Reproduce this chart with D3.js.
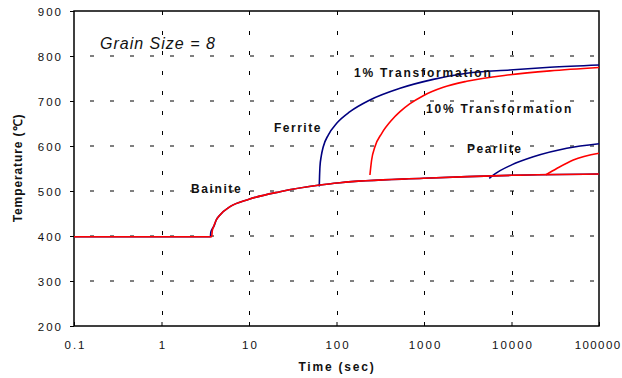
<!DOCTYPE html>
<html>
<head>
<meta charset="utf-8">
<script src="https://cdn.jsdelivr.net/npm/d3@7"></script>
<style>
  html, body { margin: 0; padding: 0; background: #fff; }
  svg { display: block; }
  text { font-family: "Liberation Sans", Arial, sans-serif; fill: #111; }
</style>
</head>
<body>
<svg id="chart" width="622" height="378"></svg>
<script>
// ---- data (time in sec, temperature in °C) ----
const xTicks = [0.1, 1, 10, 100, 1000, 10000, 100000];
const xTickLabels = ["0.1", "1", "10", "100", "1000", "10000", "100000"];
const yTicks = [200, 300, 400, 500, 600, 700, 800, 900];

const bainite1 = [[0.1,398.4],[3.62,398.4],[3.66,408],[3.78,415],[4.0,423],[4.2,434.4],[4.66,446.7],[6.07,465.1],[10,481.6],[22.6,498.4],[64.7,513.3],[109.6,518.4],[993,528.2],[10040,534.9],[100000,537.8]];
const bainite10 = [[0.1,398.4],[3.75,398.4],[3.80,411],[3.91,418.9],[4.2,434.4],[4.66,446.7],[6.07,465.1],[10,481.6],[22.6,498.4],[64.7,513.3],[109.6,518.4],[993,528.2],[10040,534.9],[100000,537.8]];
const ferrite1 = [[63.5,510],[64.0,532],[64.7,554],[67.0,577.8],[70.6,598.4],[80.5,624.4],[100.5,650.4],[142.6,676.2],[241,702.2],[532,728.2],[1276,748],[3076,761.6],[9610,768.9],[27500,774.9],[100000,780]];
const ferrite10 = [[241,535.6],[252,568.9],[275,598.4],[329,628.2],[428,657.8],[532,676.2],[692,694],[981,711.8],[1662,730.4],[3076,743.8],[9610,758.2],[27500,767],[100000,774.5]];
const pearlite1 = [[5570,528],[6470,538],[10040,558],[17740,576],[42760,595],[100000,605]];
const pearlite10 = [[24770,536],[32900,550],[50800,569],[100000,584]];

const labels = [
  {text: "Grain Size = 8", x: 100, y: 49, italic: true, bold: false, size: 16, ls: 1},
  {text: "1% Transformation", x: 354, y: 77, bold: true, size: 12, ls: 1.8},
  {text: "10% Transformation", x: 426, y: 113, bold: true, size: 12, ls: 1.8},
  {text: "Ferrite", x: 274, y: 132, bold: true, size: 12, ls: 1.5},
  {text: "Pearlite", x: 467, y: 153, bold: true, size: 12, ls: 1.5},
  {text: "Bainite", x: 191, y: 193, bold: true, size: 12, ls: 1.6}
];

// ---- layout ----
const svg = d3.select("#chart");
const m = {left: 74, top: 11, right: 599, bottom: 326};
const x = d3.scaleLog().domain([0.1, 100000]).range([m.left, m.right]);
const y = d3.scaleLinear().domain([200, 900]).range([m.bottom, m.top]);

// gridlines
const grid = svg.append("g");
grid.selectAll("line.h").data(yTicks.filter(v => v > 200 && v < 900)).join("line")
  .attr("x1", m.left).attr("x2", m.right)
  .attr("y1", d => y(d)).attr("y2", d => y(d))
  .attr("stroke", "#000").attr("stroke-width", 1).attr("stroke-dasharray", "4,16")
  .attr("stroke-dashoffset", -16);
grid.selectAll("line.v").data(xTicks.filter(v => v > 0.1 && v < 100000)).join("line")
  .attr("x1", d => Math.round(x(d)) + 0.5).attr("x2", d => Math.round(x(d)) + 0.5)
  .attr("y1", m.top).attr("y2", m.bottom)
  .attr("stroke", "#000").attr("stroke-width", 1).attr("stroke-dasharray", "4,16");

// axes
const yAxis = d3.axisLeft(y).tickValues(yTicks).tickSize(4).tickFormat(d3.format("d"));
const gy = svg.append("g").attr("transform", `translate(${m.left},0)`).call(yAxis);
gy.select(".domain").remove();
gy.selectAll(".tick line").attr("stroke", "#000");
gy.selectAll(".tick text").attr("x", -11).attr("dy", "0.36em")
  .style("font-size", "11.5px").style("letter-spacing", "2px")
  .style("font-family", "'Liberation Sans', Arial, sans-serif").attr("fill", "#111");

const xAxis = d3.axisBottom(x).tickValues(xTicks).tickSize(-4)
  .tickFormat((d, i) => xTickLabels[i]);
const gx = svg.append("g").attr("transform", `translate(0,${m.bottom})`).call(xAxis);
gx.select(".domain").remove();
gx.selectAll(".tick line").attr("stroke", "#000");
gx.selectAll(".tick text").attr("y", 23).attr("dy", 0).attr("dx", 1)
  .style("font-size", "11.5px").style("letter-spacing", "2px")
  .style("font-family", "'Liberation Sans', Arial, sans-serif").attr("fill", "#111");
// keep the last label inside the picture
gx.selectAll(".tick text").filter((d, i) => i === xTicks.length - 1)
  .attr("text-anchor", "end").attr("dx", 22).style("letter-spacing", "1.4px");

// frame
svg.append("rect").attr("x", m.left).attr("y", m.top)
  .attr("width", m.right - m.left).attr("height", m.bottom - m.top)
  .attr("fill", "none").attr("stroke", "#000").attr("stroke-width", 1.5);

// curves
const line = d3.line().x(d => x(d[0])).y(d => y(d[1])).curve(d3.curveMonotoneX);
const series = [
  {data: bainite1, color: "#000080"},
  {data: ferrite1, color: "#000080"},
  {data: pearlite1, color: "#000080"},
  {data: bainite10, color: "#ff0000"},
  {data: ferrite10, color: "#ff0000"},
  {data: pearlite10, color: "#ff0000"}
];
svg.append("g").selectAll("path").data(series).join("path")
  .attr("d", d => line(d.data))
  .attr("fill", "none").attr("stroke", d => d.color).attr("stroke-width", 1.6)
  .attr("stroke-linejoin", "round");

// annotations
svg.append("g").selectAll("text").data(labels).join("text")
  .attr("x", d => d.x).attr("y", d => d.y)
  .style("font-size", d => d.size + "px")
  .style("font-weight", d => d.bold ? "bold" : "normal")
  .style("font-style", d => d.italic ? "italic" : "normal")
  .style("letter-spacing", d => d.ls + "px")
  .text(d => d.text);

// axis titles
svg.append("text").attr("x", 337).attr("y", 371).attr("text-anchor", "middle")
  .style("font-size", "12px").style("font-weight", "bold").style("letter-spacing", "1.8px")
  .text("Time (sec)");
svg.append("text").attr("transform", "translate(22,168) rotate(-90)").attr("text-anchor", "middle")
  .style("font-size", "12px").style("font-weight", "bold").style("letter-spacing", "0.9px")
  .text("Temperature (℃)");
</script>
</body>
</html>
